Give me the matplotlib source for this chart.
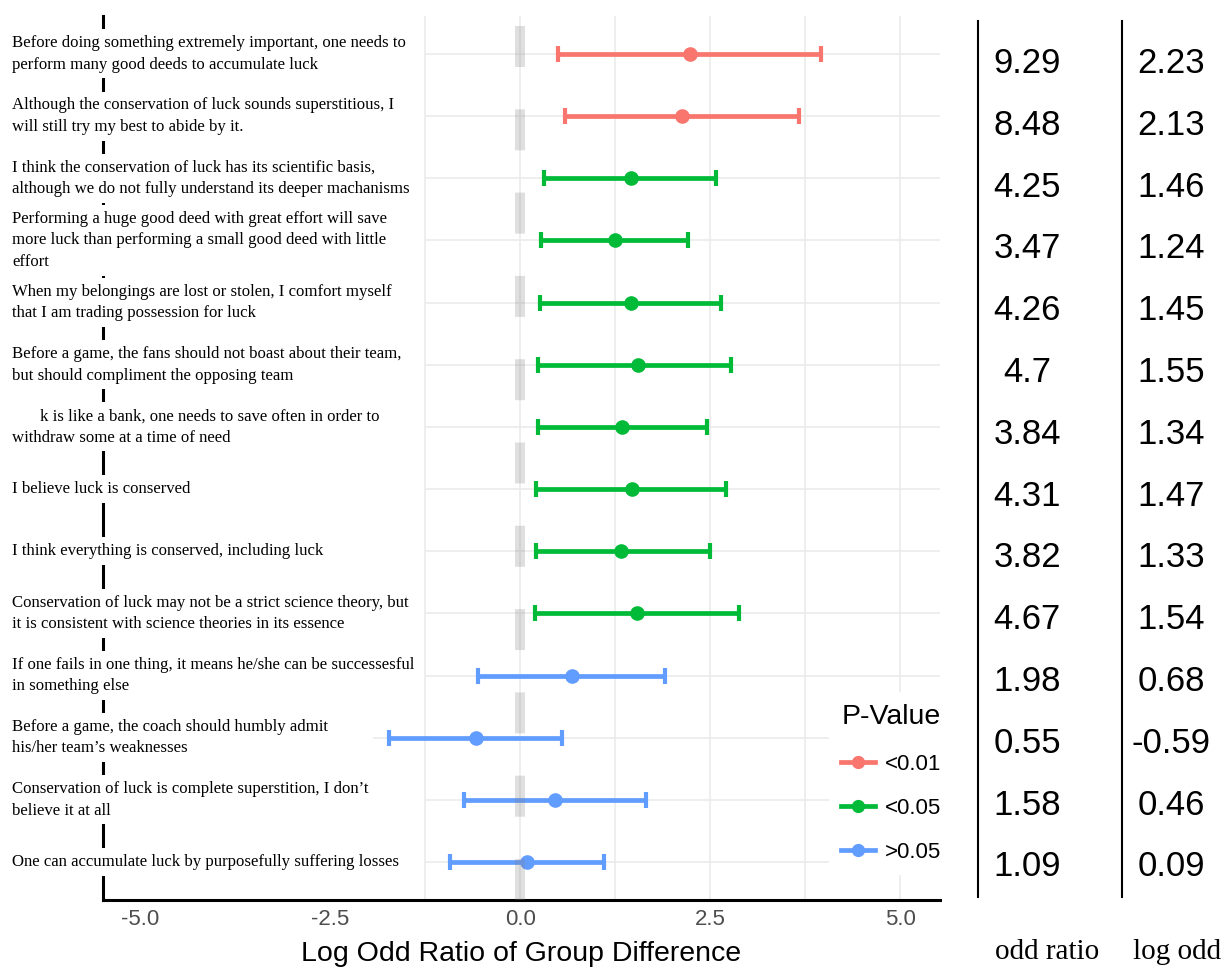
import numpy as np
import matplotlib
matplotlib.use("Agg")
import matplotlib.pyplot as plt
from matplotlib.lines import Line2D
from matplotlib.patches import Rectangle
from matplotlib.ticker import FuncFormatter
from matplotlib.transforms import blended_transform_factory

plt.rcParams["font.family"] = ["Liberation Sans", "DejaVu Sans"]

# ---- data (top row first) -------------------------------------------------
statements = [
    "Before doing something extremely important, one needs to\nperform many good deeds to accumulate luck",
    "Although the conservation of luck sounds superstitious, I\nwill still try my best to abide by it.",
    "I think the conservation of luck has its scientific basis,\nalthough we do not fully understand its deeper machanisms",
    "Performing a huge good deed with great effort will save\nmore luck than performing a small good deed with little\neffort",
    "When my belongings are lost or stolen, I comfort myself\nthat I am trading possession for luck",
    "Before a game, the fans should not boast about their team,\nbut should compliment the opposing team",
    "k is like a bank, one needs to save often in order to\nwithdraw some at a time of need",
    "I believe luck is conserved",
    "I think everything is conserved, including luck",
    "Conservation of luck may not be a strict science theory, but\nit is consistent with science theories in its essence",
    "If one fails in one thing, it means he/she can be successesful\nin something else",
    "Before a game, the coach should humbly admit\nhis/her team\u2019s weaknesses",
    "Conservation of luck is complete superstition, I don\u2019t\nbelieve it at all",
    "One can accumulate luck by purposefully suffering losses",
]
log_odds = [2.23, 2.13, 1.46, 1.24, 1.45, 1.55, 1.34, 1.47, 1.33, 1.54, 0.68, -0.59, 0.46, 0.09]
ci_low = [0.50, 0.59, 0.31, 0.27, 0.26, 0.23, 0.23, 0.20, 0.20, 0.19, -0.56, -1.73, -0.74, -0.93]
ci_high = [3.95, 3.67, 2.57, 2.20, 2.64, 2.77, 2.46, 2.71, 2.49, 2.88, 1.90, 0.55, 1.65, 1.10]
odds_ratio = [9.29, 8.48, 4.25, 3.47, 4.26, 4.7, 3.84, 4.31, 3.82, 4.67, 1.98, 0.55, 1.58, 1.09]
p_group = ["<0.01"] * 2 + ["<0.05"] * 8 + [">0.05"] * 4
group_colors = {"<0.01": "#F8766D", "<0.05": "#00BA38", ">0.05": "#619CFF"}
x_ticks = [-5.0, -2.5, 0.0, 2.5, 5.0]

# ---- canvas helpers -------------------------------------------------------
W, H = 1228, 968
fig = plt.figure(figsize=(W / 100, H / 100), dpi=100)
fig.patch.set_facecolor("white")


def fx(px):
    return px / W


def fy(py):
    return 1 - py / H


AX_L, AX_R, AX_T, AX_B = 103, 940, 16, 900
ax = fig.add_axes([fx(AX_L), fy(AX_B), fx(AX_R) - fx(AX_L), fy(AX_T) - fy(AX_B)])

n = len(statements)
ypos = np.arange(n, 0, -1).astype(float)
y_lo, y_hi = 0.39, 14.61
x_lo, x_hi = -5.49, 5.52
ax.set_xlim(x_lo, x_hi)
ax.set_ylim(y_lo, y_hi)
px_per_row = (AX_B - AX_T) / (y_hi - y_lo)

est = np.array(log_odds)
lo = np.array(ci_low)
hi = np.array(ci_high)
grp = np.array(p_group)

# ---- grid (the label panel hides everything left of -1.25) ---------------
grid_c = "#EBEBEB"
for gx in [-1.25, 0.0, 1.25, 2.5, 3.75, 5.0]:
    ax.axvline(gx, color=grid_c, lw=1.2, zorder=0)
grid_start = np.full(n, -1.25)
grid_start[11] = -1.94
ax.hlines(ypos, grid_start, x_hi, color=grid_c, lw=1.2, zorder=0)

# ---- estimates with confidence intervals ---------------------------------
for g, c in group_colors.items():
    m = grp == g
    ax.errorbar(est[m], ypos[m], xerr=[est[m] - lo[m], hi[m] - est[m]],
                fmt="o", color=c, ms=9.5, elinewidth=3.4, capsize=5.8,
                capthick=3.0, zorder=3)

# reference line at zero
ax.axvline(0, color="#808080", alpha=0.25, lw=7.2,
           linestyle=(0, (4.1, 4.23)), zorder=4)

# ---- axes styling ---------------------------------------------------------
for s in ["top", "right"]:
    ax.spines[s].set_visible(False)
for s in ["left", "bottom"]:
    ax.spines[s].set_color("black")
    ax.spines[s].set_linewidth(2.2)
ax.set_yticks([])
ax.set_xticks(x_ticks)
ax.xaxis.set_major_formatter(FuncFormatter(lambda v, _: f"{v:.1f}"))
ax.tick_params(axis="x", length=0, pad=6.5, labelsize=16, labelcolor="#4D4D4D")
ax.set_xlabel("Log Odd Ratio of Group Difference", fontsize=20.5, color="black")
ax.xaxis.label.set_va("baseline")
ax.xaxis.set_label_coords(0.5, (AX_B - 961) / (AX_B - AX_T))

# ---- statement labels -----------------------------------------------------
lab_tr = blended_transform_factory(fig.transFigure, ax.transData)
first_indent = np.zeros(n)
first_indent[6] = 28
line_px = 21.5
for i, (text, yp) in enumerate(zip(statements, ypos)):
    lines = text.split("\n")
    k = len(lines)
    box_h = (6 + k * line_px) / px_per_row
    ax.add_patch(Rectangle((fx(95), yp - box_h / 2), fx(16), box_h,
                           transform=lab_tr, facecolor="white",
                           edgecolor="none", clip_on=False, zorder=5))
    for j, line in enumerate(lines):
        off = (j - (k - 1) / 2) * line_px + 4
        x0 = 12 + (first_indent[i] if j == 0 else 0)
        ax.text(fx(x0), yp - off / px_per_row, line, transform=lab_tr,
                family=["Liberation Serif", "DejaVu Serif"], fontsize=12.1,
                color="black", ha="left", va="baseline", clip_on=False,
                zorder=6)

# ---- legend ---------------------------------------------------------------
handles = [Line2D([], [], color=c, lw=3.4, marker="o", ms=8.5)
           for c in group_colors.values()]
leg = ax.legend(handles, list(group_colors), title="P-Value",
                loc="upper left",
                bbox_to_anchor=((829 - AX_L) / (AX_R - AX_L), (AX_B - 692) / (AX_B - AX_T)),
                frameon=True, facecolor="white", edgecolor="none", framealpha=1,
                fancybox=False, fontsize=16, title_fontsize=20.5,
                handlelength=1.53, handletextpad=0.45, labelspacing=1.05,
                borderpad=0.55, borderaxespad=0, alignment="left")
leg.set_zorder(7)

# ---- side table: odds ratio and log odds ---------------------------------
T_T, T_B = 22.3, 901.2
ax_t = fig.add_axes([0, fy(T_B), 1, fy(T_T) - fy(T_B)])
ax_t.set_axis_off()
ax_t.set_xlim(0, 1)
ax_t.set_ylim(y_lo, y_hi)
tab_tr = blended_transform_factory(fig.transFigure, ax_t.transData)
for yp, o, l in zip(ypos, odds_ratio, log_odds):
    ax_t.text(fx(1027), yp, f"{o:g}", transform=tab_tr, ha="center",
              va="center_baseline", fontsize=25, color="black")
    ax_t.text(fx(1171), yp, f"{l:g}", transform=tab_tr, ha="center",
              va="center_baseline", fontsize=25, color="black")

for lx in (978, 1122):
    fig.add_artist(Line2D([fx(lx), fx(lx)], [fy(21), fy(897)],
                          color="black", lw=1.5))

fig.text(fx(1047), fy(959), "odd ratio", ha="center", va="baseline",
         family=["Liberation Serif", "DejaVu Serif"], fontsize=21)
fig.text(fx(1177), fy(959), "log odd", ha="center", va="baseline",
         family=["Liberation Serif", "DejaVu Serif"], fontsize=21)

fig.savefig("out.png", dpi=100, facecolor="white")
